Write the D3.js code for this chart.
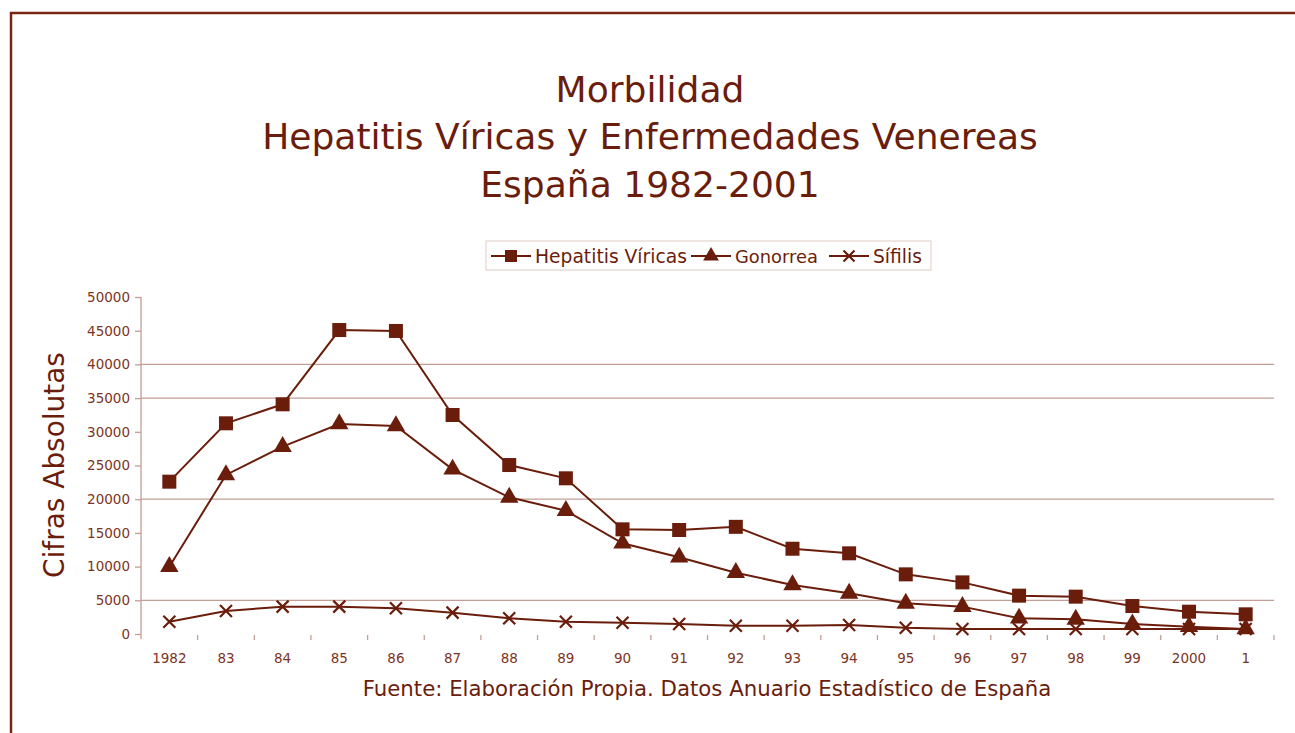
<!DOCTYPE html>
<html>
<head>
<meta charset="utf-8">
<script src="https://cdn.jsdelivr.net/npm/d3@7"></script>
<style>
  html, body { margin: 0; padding: 0; background: #fff; }
  svg { display: block; font-family: "DejaVu Sans", sans-serif; }
</style>
</head>
<body>
<div id="chart"></div>
<script>
// data
var years = ["1982", "83", "84", "85", "86", "87", "88", "89", "90", "91",
             "92", "93", "94", "95", "96", "97", "98", "99", "2000", "1"];
var hepatitis = [22600, 31260, 34080, 45100, 44960, 32490, 25070, 23100, 15530, 15430,
                 15900, 12650, 11970, 8850, 7660, 5690, 5540, 4150, 3310, 2920];
var gonorrea = [9990, 23600, 27800, 31160, 30860, 24440, 20280, 18300, 13460, 11380,
                9100, 7270, 6030, 4550, 4060, 2330, 2180, 1480, 1090, 740];
var sifilis = [1830, 3410, 4060, 4060, 3810, 3170, 2330, 1830, 1680, 1480,
               1230, 1230, 1340, 940, 740, 740, 740, 740, 740, 740];
var yTicks = [0, 5000, 10000, 15000, 20000, 25000, 30000, 35000, 40000, 45000, 50000];
var gridValues = [5000, 20000, 35000, 40000];
var titleLines = ["Morbilidad", "Hepatitis Víricas y Enfermedades Venereas", "España 1982-2001"];

var series = [
  {name: "Hepatitis Víricas", values: hepatitis, marker: "square"},
  {name: "Gonorrea", values: gonorrea, marker: "triangle"},
  {name: "Sífilis", values: sifilis, marker: "cross"}
];

var W = 1295, H = 733;
var dark = "#6b1d0c", tickCol = "#7d3424", gridCol = "#c29e96";
var margin = {left: 141, right: 21, top: 297, bottom: 99};

var svg = d3.select("#chart").append("svg").attr("width", W).attr("height", H);

// scale a text's font so that it takes the wanted width
function fitWidth(sel, width) {
  sel.each(function() {
    var fs = parseFloat(this.style.fontSize);
    var w = this.getComputedTextLength();
    this.style.fontSize = (fs * width / w) + "px";
  });
}

// frame
svg.append("path")
  .attr("d", "M11," + H + " V13 H" + W)
  .attr("fill", "none").attr("stroke", "#7a2616").attr("stroke-width", 2.5);

var x = d3.scaleBand().domain(years).range([margin.left, W - margin.right]);
var y = d3.scaleLinear().domain([0, 50000]).range([H - margin.bottom, margin.top]);

// title
svg.append("text").attr("x", 650).attr("y", 149)
  .attr("text-anchor", "middle").attr("fill", dark).style("font-size", "34px")
  .text(titleLines[1]).call(fitWidth, 776);
var titleSize = svg.select("text:last-child").style("font-size");
svg.append("g").selectAll("text").data([titleLines[0], titleLines[2]]).enter().append("text")
  .attr("x", 650).attr("y", function(d, i) { return i ? 197 : 102; })
  .attr("text-anchor", "middle").attr("fill", dark).style("font-size", titleSize)
  .text(function(d) { return d; });

// gridlines
svg.append("g").selectAll("line").data(gridValues).enter().append("line")
  .attr("x1", margin.left).attr("x2", W - margin.right)
  .attr("y1", function(d) { return y(d); }).attr("y2", function(d) { return y(d); })
  .attr("stroke", gridCol).attr("stroke-width", 1.3);

// y axis
var yAxis = svg.append("g").attr("transform", "translate(" + margin.left + ",0)")
  .call(d3.axisLeft(y).tickValues(yTicks).tickSize(6).tickPadding(5).tickFormat(d3.format("d")));
yAxis.select(".domain").attr("stroke", gridCol).attr("stroke-width", 1.3)
  .attr("d", "M0," + y(50000) + "V" + (y(0) + 5));
yAxis.selectAll(".tick line").attr("stroke", gridCol).attr("stroke-width", 1.3);
yAxis.selectAll(".tick text").attr("fill", tickCol).style("font-size", "13.5px")
  .style("font-family", "'DejaVu Sans', sans-serif");

// x axis: ticks at band boundaries, no baseline
var bounds = years.map(function(d) { return x(d); }).concat([x.range()[1]]).slice(1);
svg.append("g").selectAll("line").data(bounds).enter().append("line")
  .attr("x1", function(d) { return d; }).attr("x2", function(d) { return d; })
  .attr("y1", y(0) + 1).attr("y2", y(0) + 6)
  .attr("stroke", gridCol).attr("stroke-width", 1.3);
svg.append("g").selectAll("text").data(years).enter().append("text")
  .attr("x", function(d) { return x(d) + x.bandwidth() / 2; })
  .attr("y", y(0) + 29)
  .attr("text-anchor", "middle").attr("fill", tickCol)
  .style("font-size", "13.5px")
  .text(function(d) { return d; });

// axis titles
svg.append("text")
  .attr("transform", "translate(64,465) rotate(-90)")
  .attr("text-anchor", "middle").attr("fill", dark)
  .style("font-size", "26px")
  .text("Cifras Absolutas").call(fitWidth, 226);
svg.append("text")
  .attr("x", 707).attr("y", 696).attr("text-anchor", "middle").attr("fill", dark)
  .style("font-size", "19px")
  .text("Fuente: Elaboración Propia. Datos Anuario Estadístico de España").call(fitWidth, 689);

function drawMarker(g, type, size) {
  if (type === "square") {
    g.append("rect").attr("x", -size / 2).attr("y", -size / 2)
      .attr("width", size).attr("height", size).attr("fill", dark);
  } else if (type === "triangle") {
    g.append("path").attr("d", d3.symbol().type(d3.symbolTriangle).size(size * size * 0.75)())
      .attr("fill", dark);
  } else {
    var h = size / 2;
    g.append("path").attr("d", "M" + (-h) + "," + (-h) + "L" + h + "," + h + "M" + (-h) + "," + h + "L" + h + "," + (-h))
      .attr("stroke", dark).attr("stroke-width", 2.2).attr("fill", "none");
  }
}

// lines
var line = d3.line()
  .x(function(d, i) { return x(years[i]) + x.bandwidth() / 2; })
  .y(function(d) { return y(d); });

series.forEach(function(s) {
  svg.append("path").datum(s.values).attr("d", line)
    .attr("fill", "none").attr("stroke", dark).attr("stroke-width", 2);
  svg.append("g").selectAll("g").data(s.values).enter().append("g")
    .attr("transform", function(d, i) {
      return "translate(" + (x(years[i]) + x.bandwidth() / 2) + "," + y(d) + ")";
    })
    .each(function() { drawMarker(d3.select(this), s.marker, s.marker === "cross" ? 12 : 14); });
});

// legend
var legend = svg.append("g");
legend.append("rect").attr("x", 486).attr("y", 241).attr("width", 445).attr("height", 29)
  .attr("fill", "#fff").attr("stroke", "#ddc9c4").attr("stroke-width", 1);
var legendX = [491, 691, 829];
var legendW = [152, 83, 49];
series.forEach(function(s, i) {
  var g = legend.append("g").attr("transform", "translate(" + legendX[i] + ",256)");
  g.append("line").attr("x1", 0).attr("x2", 40).attr("stroke", dark).attr("stroke-width", 2);
  var m = g.append("g").attr("transform", "translate(20,0)");
  drawMarker(m, s.marker, s.marker === "cross" ? 11 : 12);
  g.append("text").attr("x", 44).attr("y", 6.5).attr("fill", dark)
    .style("font-size", "17px")
    .text(s.name).call(fitWidth, legendW[i]);
});
</script>
</body>
</html>
